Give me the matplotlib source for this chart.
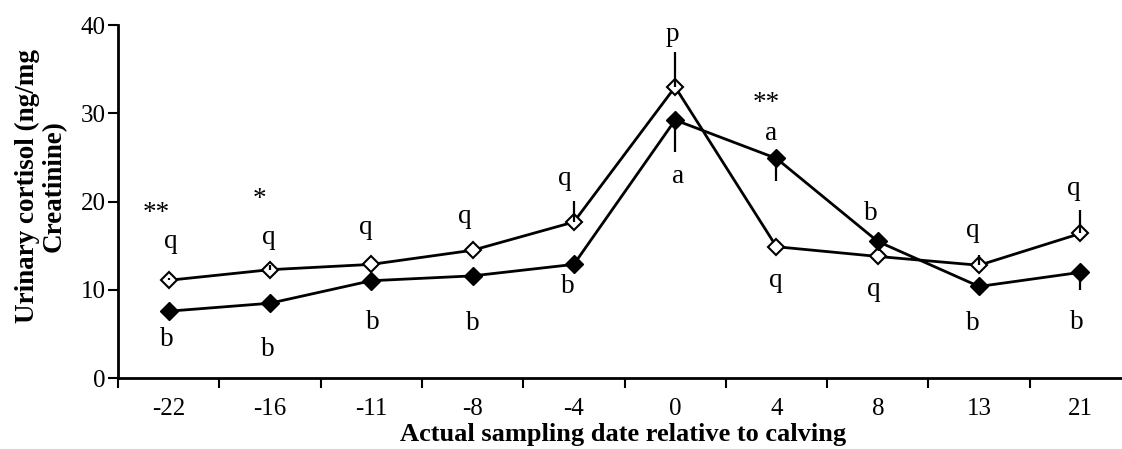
import numpy as np
import matplotlib
matplotlib.use('Agg')
import matplotlib.pyplot as plt

plt.rcParams['font.family'] = ['Liberation Serif', 'DejaVu Serif']

# sampling days relative to calving
days = ['-22', '-16', '-11', '-8', '-4', '0', '4', '8', '13', '21']

# open diamonds (upper error only) / filled diamonds (lower error only)
open_vals = [11.1, 12.3, 12.9, 14.5, 17.7, 33.0, 14.9, 13.8, 12.8, 16.4]
open_err = [0.3, 0.5, 0.0, 0.0, 2.4, 3.9, 0.0, 0.0, 1.2, 2.7]
filled_vals = [7.6, 8.5, 11.05, 11.6, 12.9, 29.25, 24.9, 15.5, 10.4, 12.0]
filled_err = [0.0, 0.95, 0.0, 0.0, 0.0, 3.6, 2.6, 0.0, 0.0, 2.0]

# significance letters: (x index, y value, text)
letters = [
    (-0.12, 18.7, '**'), (0.02, 15.5, 'q'), (-0.02, 4.45, 'b'),
    (0.90, 20.2, '*'), (0.99, 16.0, 'q'), (0.98, 3.3, 'b'),
    (1.95, 17.1, 'q'), (2.01, 6.3, 'b'),
    (2.92, 18.3, 'q'), (3.00, 6.2, 'b'),
    (3.91, 22.65, 'q'), (3.94, 10.4, 'b'),
    (4.97, 38.9, 'p'), (5.03, 22.9, 'a'),
    (5.90, 31.1, '**'), (5.95, 27.7, 'a'), (5.99, 11.1, 'q'),
    (6.93, 18.7, 'b'), (6.96, 10.0, 'q'),
    (7.94, 16.7, 'q'), (7.94, 6.2, 'b'),
    (8.94, 21.5, 'q'), (8.96, 6.3, 'b'),
]

W, H = 1122, 449
fig = plt.figure(figsize=(W / 100, H / 100), dpi=100)
ax = fig.add_axes([118 / W, 1 - 378.3 / H, 1013 / W, 353.2 / H])

x = np.arange(len(days))
ax.plot(x, open_vals, color='black', lw=2, marker='D', ms=8,
        mfc='white', mec='black', mew=1.5, zorder=3)
ax.plot(x, filled_vals, color='black', lw=2, marker='D', ms=9,
        mfc='black', mec='black', zorder=3)
ax.errorbar(x, open_vals, yerr=[np.zeros(len(x)), open_err], fmt='none',
            ecolor='black', elinewidth=1.6, capsize=0, zorder=4)
ax.errorbar(x, filled_vals, yerr=[filled_err, np.zeros(len(x))], fmt='none',
            ecolor='black', elinewidth=1.6, capsize=0, zorder=4)

for lx, ly, t in letters:
    ax.text(lx, ly, t, ha='center', va='center', fontsize=19.5)

ax.set_xlim(-0.5, len(days) - 0.5)
ax.set_ylim(0, 40)
ax.set_yticks([0, 10, 20, 30, 40])
ax.set_xticks(x)
ax.set_xticklabels(days)
ax.set_xticks(np.arange(-0.5, len(days)), minor=True)
ax.tick_params(axis='x', which='major', length=0, pad=14, labelsize=18)
ax.tick_params(axis='x', which='minor', length=7, width=1.5, direction='out')
ax.tick_params(axis='y', length=7, width=1.5, direction='out', pad=2, labelsize=18)
for s in ['top', 'right']:
    ax.spines[s].set_visible(False)
for s in ['left', 'bottom']:
    ax.spines[s].set_linewidth(2)

fig.text(623.5 / W, 1 - 434 / H, 'Actual sampling date relative to calving',
         ha='center', va='center', fontsize=19, fontweight='bold')
fig.text(41 / W, 1 - 186 / H, 'Urinary cortisol (ng/mg\nCreatinine)',
         ha='center', va='center', rotation=90, fontsize=19.5,
         fontweight='bold', multialignment='center', linespacing=1.1)

fig.savefig('out.png', dpi=100)
